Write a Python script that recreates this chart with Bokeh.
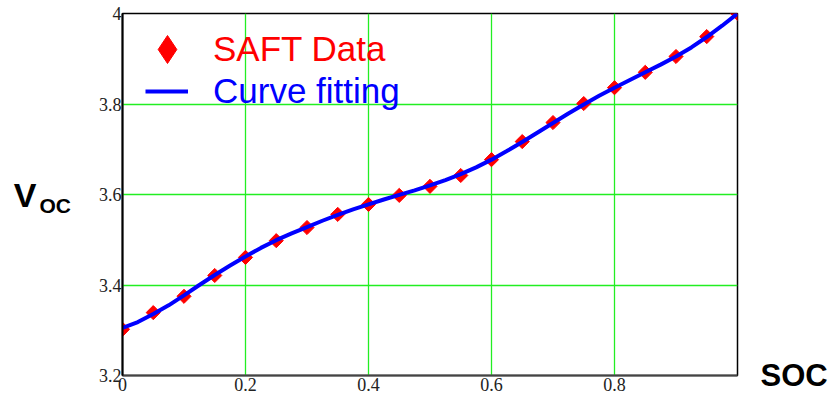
import math
from bokeh.plotting import figure
from bokeh.models import Range1d, FixedTicker, Legend, LegendItem, Label, LinearAxis
from bokeh.embed import file_html
from bokeh.resources import INLINE

# SAFT measured data (state of charge vs open-circuit voltage)
soc_data = [0.0, 0.05, 0.1, 0.15, 0.2, 0.25, 0.3, 0.35, 0.4, 0.45, 0.5,
            0.55, 0.6, 0.65, 0.7, 0.75, 0.8, 0.85, 0.9, 0.95, 1.0]
voc_data = [3.302, 3.339, 3.375, 3.421, 3.461, 3.498, 3.527, 3.556, 3.578, 3.598, 3.618,
            3.642, 3.677, 3.717, 3.759, 3.801, 3.836, 3.870, 3.905, 3.949, 4.0]

# Curve fitting
soc_fit = [0.0, 0.025, 0.05, 0.075, 0.1, 0.125, 0.15, 0.175, 0.2, 0.225, 0.25,
           0.275, 0.3, 0.325, 0.35, 0.375, 0.4, 0.425, 0.45, 0.475, 0.5,
           0.525, 0.55, 0.575, 0.6, 0.625, 0.65, 0.675, 0.7, 0.725, 0.75,
           0.775, 0.8, 0.825, 0.85, 0.875, 0.9, 0.925, 0.95, 0.975, 1.0]
voc_fit = [3.305, 3.318, 3.336, 3.355, 3.377, 3.400, 3.422, 3.443, 3.463, 3.482, 3.499,
           3.514, 3.528, 3.542, 3.555, 3.567, 3.578, 3.589, 3.599, 3.609, 3.620,
           3.632, 3.645, 3.660, 3.677, 3.696, 3.716, 3.737, 3.758, 3.779, 3.799,
           3.818, 3.836, 3.853, 3.870, 3.887, 3.905, 3.925, 3.948, 3.973, 4.0]

x_ticks = [0, 0.2, 0.4, 0.6, 0.8]
x_tick_labels = ["0", "0.2", "0.4", "0.6", "0.8"]
y_ticks = [3.2, 3.4, 3.6, 3.8, 4]
y_tick_labels = ["3.2", "3.4", "3.6", "3.8", "4"]

legend_labels = ["SAFT Data", "Curve fitting"]
x_title = "SOC"
y_title_main = "V"
y_title_sub = "OC"

W, H = 837, 398
FL, FR, FT, FB = 122, 737, 13, 375   # frame edges in canvas pixels

p = figure(width=W, height=H, output_backend="svg", toolbar_location=None,
           x_range=Range1d(0, 1), y_range=Range1d(3.2, 4),
           min_border_left=FL, min_border_right=W - FR, min_border_top=FT, min_border_bottom=H - FB)
p.background_fill_color = "white"
p.border_fill_color = "white"
p.outline_line_color = "black"
p.outline_line_width = 1.5

grid_color = "#22ee22"
p.xgrid.ticker = FixedTicker(ticks=x_ticks)
p.ygrid.ticker = FixedTicker(ticks=y_ticks)
p.xgrid.grid_line_color = grid_color
p.ygrid.grid_line_color = grid_color
p.xgrid.grid_line_width = 1.3
p.ygrid.grid_line_width = 1.3

for ax in (p.xaxis[0], p.yaxis[0]):
    ax.major_tick_in = 0
    ax.major_tick_out = 0
    ax.minor_tick_in = 0
    ax.minor_tick_out = 0
    ax.major_label_text_font = "Liberation Serif"
    ax.major_label_text_font_size = "18px"
    ax.major_label_text_color = "#222222"

p.xaxis.ticker = FixedTicker(ticks=x_ticks)
p.yaxis.ticker = FixedTicker(ticks=y_ticks)
p.xaxis.major_label_overrides = dict(zip(x_ticks, x_tick_labels))
p.yaxis.major_label_overrides = dict(zip(y_ticks, y_tick_labels))
p.xaxis.axis_line_color = "#444444"
p.xaxis.axis_line_width = 2
p.yaxis.axis_line_color = "black"
p.yaxis.axis_line_width = 2
p.xaxis.major_label_standoff = 2
p.yaxis.major_label_standoff = 1

# Y title: subscript part as the main axis label, "V" on an extra outer axis
p.yaxis.axis_label = "\n" + y_title_sub
p.yaxis.axis_label_orientation = "horizontal"
p.yaxis.axis_label_text_font = "Liberation Sans"
p.yaxis.axis_label_text_font_style = "bold"
p.yaxis.axis_label_text_font_size = "21px"
p.yaxis.axis_label_text_line_height = 0.95
p.yaxis.axis_label_text_color = "black"
p.yaxis.axis_label_standoff = 25

v_axis = LinearAxis(ticker=FixedTicker(ticks=[]), axis_line_color=None,
                    major_tick_in=0, major_tick_out=0, minor_tick_in=0, minor_tick_out=0,
                    axis_label=y_title_main, axis_label_orientation="horizontal",
                    axis_label_text_font="Liberation Sans", axis_label_text_font_style="bold",
                    axis_label_text_font_size="34px", axis_label_text_color="black",
                    axis_label_standoff=0)
p.add_layout(v_axis, "left")

pts = p.scatter(soc_data, voc_data, marker="square", size=10, angle=math.pi / 4,
                fill_color="red", line_color="red")
fit = p.line(soc_fit, voc_fit, line_color="blue", line_width=4)
# legend key only (hidden renderer of the same data, drawn as a diamond in the legend)
key = p.scatter(soc_data, voc_data, marker="diamond", fill_color="red", line_color="red",
                visible=False)

G1 = 70
leg1 = Legend(items=[LegendItem(label=legend_labels[0], renderers=[key])],
              location=(167 - G1 // 2 - FL, FB - 49 - G1 // 2),
              glyph_width=G1, glyph_height=G1, label_standoff=213 - (167 + G1 // 2),
              padding=0, margin=0,
              label_text_font="Liberation Sans", label_text_font_size="35px",
              label_text_color="red", background_fill_alpha=0, border_line_alpha=0)
leg2 = Legend(items=[LegendItem(label=legend_labels[1], renderers=[fit])],
              location=(145 - FL, FB - 70 - 42),
              glyph_width=43, glyph_height=42, label_standoff=25, padding=0, margin=0,
              label_text_font="Liberation Sans", label_text_font_size="35px",
              label_text_color="blue", background_fill_alpha=0, border_line_alpha=0)
p.add_layout(leg1)
p.add_layout(leg2)

soc_lbl = Label(x=760 - FR, y=0, x_units="screen", y_units="screen",
                text=x_title, text_font="Liberation Sans", text_font_style="bold",
                text_font_size="31px", text_color="black", text_baseline="alphabetic")
p.add_layout(soc_lbl, "right")

open("out.html", "w").write(file_html(p, INLINE))
